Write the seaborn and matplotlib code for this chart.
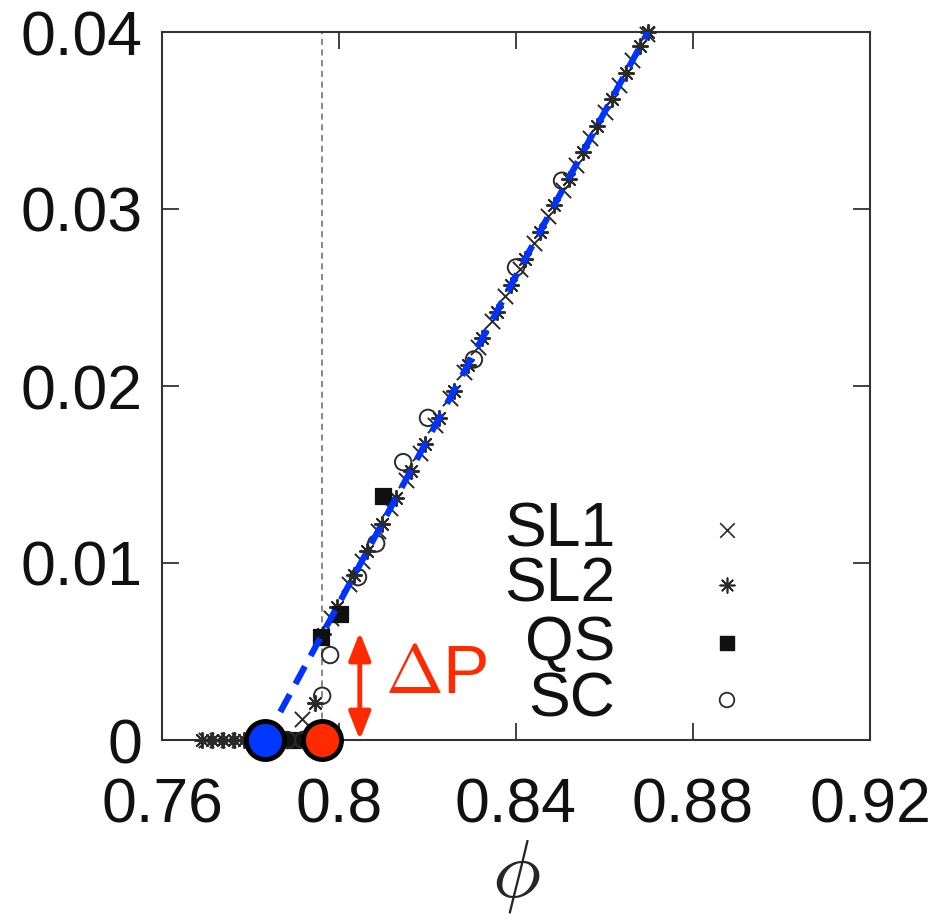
import matplotlib
matplotlib.use("Agg")
import matplotlib.pyplot as plt
import seaborn as sns
import pandas as pd

sns.set_theme(style="white")
plt.rcParams['font.family'] = ['Liberation Sans', 'DejaVu Sans']
plt.rcParams['mathtext.fontset'] = 'cm'

# ---- data ----
sl1_phi = [0.7700, 0.7725, 0.7750, 0.7775, 0.7916, 0.7982, 0.8023, 0.8051, 0.8088,
           0.8116, 0.8151, 0.8183, 0.8218, 0.8250, 0.8283, 0.8313, 0.8346, 0.8376,
           0.8408, 0.8441, 0.8473, 0.8506, 0.8536, 0.8568, 0.8601, 0.8633, 0.8663, 0.8696]
sl1_p = [0.0, 0.0, 0.0, 0.0, 0.0012, 0.0069, 0.0088, 0.0101, 0.0118,
         0.0131, 0.0147, 0.0162, 0.0178, 0.0193, 0.0208, 0.0222, 0.0237, 0.0251,
         0.0266, 0.0281, 0.0296, 0.0311, 0.0325, 0.0340, 0.0355, 0.0370, 0.0384, 0.0399]

sl2_phi = [0.7690, 0.7712, 0.7737, 0.7762, 0.7785, 0.7946, 0.7963, 0.7995, 0.8034,
           0.8064, 0.8097, 0.8129, 0.8162, 0.8194, 0.8227, 0.8259, 0.8291, 0.8324,
           0.8356, 0.8389, 0.8421, 0.8454, 0.8486, 0.8519, 0.8551, 0.8583, 0.8616,
           0.8648, 0.8681, 0.8698]
sl2_p = [0.0, 0.0, 0.0, 0.0, 0.0, 0.0021, 0.0060, 0.0075, 0.0093,
         0.0107, 0.0122, 0.0137, 0.0152, 0.0167, 0.0182, 0.0197, 0.0212, 0.0227,
         0.0242, 0.0257, 0.0272, 0.0287, 0.0302, 0.0317, 0.0332, 0.0347, 0.0362,
         0.0377, 0.0392, 0.0400]

qs_phi = [0.7896, 0.7960, 0.8002, 0.8099]
qs_p = [0.0, 0.0058, 0.0071, 0.0138]

sc_phi = [0.7883, 0.7919, 0.7962, 0.7980, 0.8043, 0.8084, 0.8145, 0.8201,
          0.8305, 0.8400, 0.8504]
sc_p = [0.0, 0.0, 0.0025, 0.0048, 0.0092, 0.0111, 0.0157, 0.0182,
        0.0215, 0.0267, 0.0316]

fit_phi = [0.7833, 0.8698]
fit_p = [0.0, 0.0400]

phi_j = 0.7833   # blue point
phi_c = 0.7962   # red point / vertical dashed line
dp_phi = 0.8047
dp_val = 0.0061

x_ticks = [0.76, 0.80, 0.84, 0.88, 0.92]
x_labels = ["0.76", "0.8", "0.84", "0.88", "0.92"]
y_ticks = [0.0, 0.01, 0.02, 0.03, 0.04]
y_labels = ["0", "0.01", "0.02", "0.03", "0.04"]

legend_labels = ["SL1", "SL2", "QS", "SC"]

# ---- figure ----
fig = plt.figure(figsize=(9.41, 9.23), dpi=100)
ax = fig.add_axes([162/941, 1-740/923, 708/941, 708/923])

mk_col = '#2a2a2a'
ax.axvline(phi_c, color='#666666', lw=1.1, ls=(0, (4, 3)), zorder=1)

sns.lineplot(x=fit_phi, y=fit_p, ax=ax, color='#0033ff', lw=4.5,
             dashes=False, zorder=4)
ax.lines[-1].set_linestyle((0, (3.2, 1.9)))

df1 = pd.DataFrame({'phi': sl1_phi, 'P': sl1_p})
df2 = pd.DataFrame({'phi': sl2_phi, 'P': sl2_p})
df3 = pd.DataFrame({'phi': qs_phi, 'P': qs_p})
df4 = pd.DataFrame({'phi': sc_phi, 'P': sc_p})

sns.scatterplot(data=df1, x='phi', y='P', ax=ax, marker='x', s=120,
                color=mk_col, linewidth=1.4, clip_on=False, zorder=3)
sns.scatterplot(data=df2, x='phi', y='P', ax=ax, marker=(8, 2, 0), s=120,
                color=mk_col, linewidth=1.4, clip_on=False, zorder=3)
sns.scatterplot(data=df3, x='phi', y='P', ax=ax, marker='s', s=120,
                color='#111111', edgecolor='#111111', clip_on=False, zorder=3)
ax.scatter(df4['phi'], df4['P'], marker='o', s=140, facecolors='none',
           edgecolors=mk_col, linewidths=1.4, clip_on=False, zorder=3)

ax.scatter([phi_j], [0.0], s=750, color='#0038ff', edgecolors='black',
           linewidths=3.5, zorder=6, clip_on=False)
ax.scatter([phi_c], [0.0], s=750, color='#ff2a00', edgecolors='black',
           linewidths=3.5, zorder=6, clip_on=False)

ax.annotate('', xy=(dp_phi, 0.0), xytext=(dp_phi, dp_val),
            arrowprops=dict(arrowstyle='<|-|>,head_width=0.55,head_length=1.4',
                            color='#ff2a00', lw=3.5, shrinkA=0, shrinkB=0),
            zorder=5)
ax.text(0.8103, 0.0037, r'$\Delta$P', color='#ff2a00', fontsize=50,
        ha='left', va='center')

# legend (gnuplot style: text right-aligned, marker on the right)
leg_y = [0.297, 0.219, 0.137, 0.0565]
leg_m = ['x', (8, 2, 0), 's', 'o']
for lab, yy, m in zip(legend_labels, leg_y, leg_m):
    ax.text(0.640, yy, lab, transform=ax.transAxes, fontsize=45,
            ha='right', va='center', color='#111111')
    if m == 'o':
        ax.scatter([0.798], [yy], transform=ax.transAxes, marker='o', s=110,
                   facecolors='none', edgecolors=mk_col, linewidths=1.3)
    elif m == 's':
        ax.scatter([0.798], [yy], transform=ax.transAxes, marker='s', s=100,
                   color='#111111')
    else:
        ax.scatter([0.798], [yy], transform=ax.transAxes, marker=m, s=110,
                   color=mk_col, linewidths=1.2)

ax.set_xlim(0.76, 0.92)
ax.set_ylim(0.0, 0.04)
ax.set_xticks(x_ticks)
ax.set_xticklabels(x_labels)
ax.set_yticks(y_ticks)
ax.set_yticklabels(y_labels)
ax.tick_params(direction='in', length=12, width=1.3, color='#333333',
               top=True, right=True, bottom=True, left=True,
               labelsize=45, labelcolor='#111111')
ax.tick_params(axis='x', pad=26)
ax.tick_params(axis='y', pad=14)
ax.set_xlabel(r'$\phi$', fontsize=58, labelpad=2)
ax.set_ylabel('')
for sp in ax.spines.values():
    sp.set_color('#333333')
    sp.set_linewidth(1.5)

fig.savefig('out.png', dpi=100)
